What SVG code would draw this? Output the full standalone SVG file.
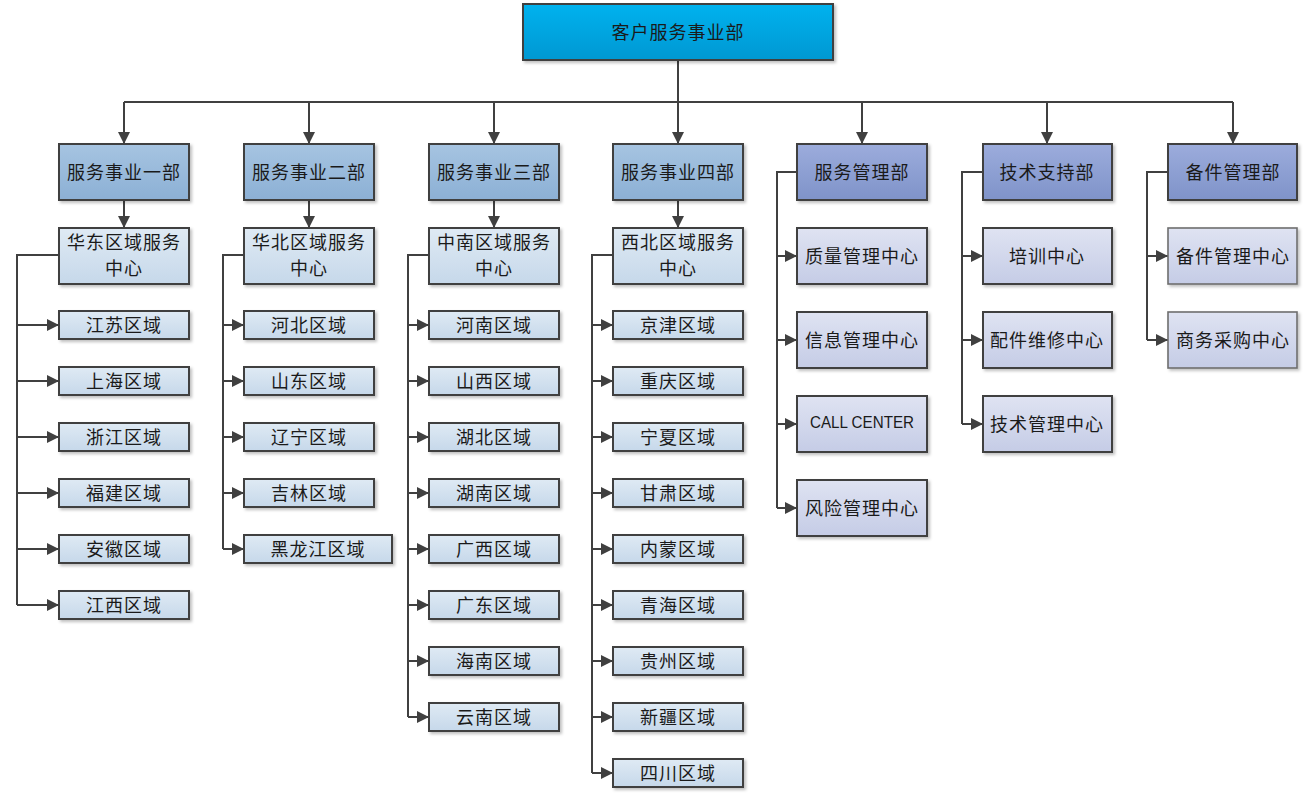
<svg xmlns="http://www.w3.org/2000/svg" width="1305" height="796" viewBox="0 0 1305 796">
<defs>
<linearGradient id="gTop" x1="0" y1="0" x2="0" y2="1"><stop offset="0" stop-color="#00B2EE"/><stop offset="1" stop-color="#0098D2"/></linearGradient>
<linearGradient id="gDept" x1="0" y1="0" x2="0" y2="1"><stop offset="0" stop-color="#A6C4E1"/><stop offset="1" stop-color="#8CB0D5"/></linearGradient>
<linearGradient id="gLight" x1="0" y1="0" x2="0" y2="1"><stop offset="0" stop-color="#DFEAF4"/><stop offset="1" stop-color="#C6D8EA"/></linearGradient>
<linearGradient id="gMgr" x1="0" y1="0" x2="0" y2="1"><stop offset="0" stop-color="#9CACDC"/><stop offset="1" stop-color="#7F93C9"/></linearGradient>
<linearGradient id="gMgrL" x1="0" y1="0" x2="0" y2="1"><stop offset="0" stop-color="#DFE3F2"/><stop offset="1" stop-color="#C5CCE6"/></linearGradient>
<filter id="sh" x="-10%" y="-10%" width="130%" height="140%"><feDropShadow dx="2" dy="2" stdDeviation="1.5" flood-color="#000" flood-opacity="0.25"/></filter>
<marker id="arr" markerUnits="userSpaceOnUse" markerWidth="12" markerHeight="12" refX="12" refY="6" orient="auto"><path d="M0,0 L12,6 L0,12 z" fill="#404040"/></marker>
<style>
rect{stroke:#404040;stroke-width:2;filter:url(#sh)}
.top{fill:url(#gTop)}
.dept{fill:url(#gDept)}
.lt{fill:url(#gLight)}
.mgr{fill:url(#gMgr)}
.mgl{fill:url(#gMgrL)}
.thin{stroke:#6e6e6e;stroke-width:1.6}
text{font-family:"Noto Sans CJK SC","Liberation Sans",sans-serif;font-size:18px;fill:#1a1a1a;text-anchor:middle;dominant-baseline:central;letter-spacing:1px;transform:translateY(-1.5px)}
.en{font-family:"Liberation Sans","Noto Sans",sans-serif;font-size:17px;letter-spacing:0}
#connectors path{fill:none;stroke:#404040;stroke-width:2}
.a{marker-end:url(#arr)}
</style>
</defs>
<rect width="1305" height="796" fill="#fff" style="stroke:none;filter:none"/>

<g id="connectors">
<path d="M678 60 V102 M124 102 H1233"/>
<path class="a" d="M124 102 V144"/><path class="a" d="M309 102 V144"/><path class="a" d="M494 102 V144"/><path class="a" d="M678 102 V144"/><path class="a" d="M862 102 V144"/><path class="a" d="M1047 102 V144"/><path class="a" d="M1233 102 V144"/>
<path class="a" d="M124 200 V228"/><path class="a" d="M309 200 V228"/><path class="a" d="M494 200 V228"/><path class="a" d="M678 200 V228"/>
<path d="M59 255 H17 V605"/>
<path class="a" d="M17 325 H59"/><path class="a" d="M17 381 H59"/><path class="a" d="M17 437 H59"/><path class="a" d="M17 493 H59"/><path class="a" d="M17 549 H59"/><path class="a" d="M17 605 H59"/>
<path d="M244 255 H223 V549"/>
<path class="a" d="M223 325 H244"/><path class="a" d="M223 381 H244"/><path class="a" d="M223 437 H244"/><path class="a" d="M223 493 H244"/><path class="a" d="M223 549 H244"/>
<path d="M429 255 H408 V717"/>
<path class="a" d="M408 325 H429"/><path class="a" d="M408 381 H429"/><path class="a" d="M408 437 H429"/><path class="a" d="M408 493 H429"/><path class="a" d="M408 549 H429"/><path class="a" d="M408 605 H429"/><path class="a" d="M408 661 H429"/><path class="a" d="M408 717 H429"/>
<path d="M613 255 H592 V773"/>
<path class="a" d="M592 325 H613"/><path class="a" d="M592 381 H613"/><path class="a" d="M592 437 H613"/><path class="a" d="M592 493 H613"/><path class="a" d="M592 549 H613"/><path class="a" d="M592 605 H613"/><path class="a" d="M592 661 H613"/><path class="a" d="M592 717 H613"/><path class="a" d="M592 773 H613"/>
<path d="M797 172 H777 V508"/>
<path class="a" d="M777 256 H797"/><path class="a" d="M777 340 H797"/><path class="a" d="M777 424 H797"/><path class="a" d="M777 508 H797"/>
<path d="M983 172 H962 V424"/>
<path class="a" d="M962 256 H983"/><path class="a" d="M962 340 H983"/><path class="a" d="M962 424 H983"/>
<path d="M1168 172 H1147 V340"/>
<path class="a" d="M1147 256 H1168"/><path class="a" d="M1147 340 H1168"/>
</g>

<g id="n-root"><rect class="top" x="523" y="4" width="310" height="56"/><text x="678" y="32">客户服务事业部</text></g>

<g id="n-d1"><rect class="dept" x="59" y="144" width="130" height="56"/><text x="124" y="172">服务事业一部</text></g>
<g id="n-d2"><rect class="dept" x="244" y="144" width="130" height="56"/><text x="309" y="172">服务事业二部</text></g>
<g id="n-d3"><rect class="dept" x="429" y="144" width="130" height="56"/><text x="494" y="172">服务事业三部</text></g>
<g id="n-d4"><rect class="dept" x="613" y="144" width="130" height="56"/><text x="678" y="172">服务事业四部</text></g>
<g id="n-d5"><rect class="mgr" x="797" y="144" width="130" height="56"/><text x="862" y="172">服务管理部</text></g>
<g id="n-d6"><rect class="mgr" x="983" y="144" width="129" height="56"/><text x="1047" y="172">技术支持部</text></g>
<g id="n-d7"><rect class="mgr" x="1168" y="144" width="129" height="56"/><text x="1233" y="172">备件管理部</text></g>

<g id="n-c1"><rect class="lt" x="59" y="228" width="130" height="56"/><text x="124" y="242">华东区域服务</text><text x="124" y="268">中心</text></g>
<g id="n-c2"><rect class="lt" x="244" y="228" width="130" height="56"/><text x="309" y="242">华北区域服务</text><text x="309" y="268">中心</text></g>
<g id="n-c3"><rect class="lt" x="429" y="228" width="130" height="56"/><text x="494" y="242">中南区域服务</text><text x="494" y="268">中心</text></g>
<g id="n-c4"><rect class="lt" x="613" y="228" width="130" height="56"/><text x="678" y="242">西北区域服务</text><text x="678" y="268">中心</text></g>

<g id="n-js"><rect class="lt" x="59" y="311" width="130" height="28"/><text x="124" y="325">江苏区域</text></g>
<g id="n-sh"><rect class="lt" x="59" y="367" width="130" height="28"/><text x="124" y="381">上海区域</text></g>
<g id="n-zj"><rect class="lt" x="59" y="423" width="130" height="28"/><text x="124" y="437">浙江区域</text></g>
<g id="n-fj"><rect class="lt" x="59" y="479" width="130" height="28"/><text x="124" y="493">福建区域</text></g>
<g id="n-ah"><rect class="lt" x="59" y="535" width="130" height="28"/><text x="124" y="549">安徽区域</text></g>
<g id="n-jx"><rect class="lt" x="59" y="591" width="130" height="28"/><text x="124" y="605">江西区域</text></g>

<g id="n-hb"><rect class="lt" x="244" y="311" width="130" height="28"/><text x="309" y="325">河北区域</text></g>
<g id="n-sd"><rect class="lt" x="244" y="367" width="130" height="28"/><text x="309" y="381">山东区域</text></g>
<g id="n-ln"><rect class="lt" x="244" y="423" width="130" height="28"/><text x="309" y="437">辽宁区域</text></g>
<g id="n-jl"><rect class="lt" x="244" y="479" width="130" height="28"/><text x="309" y="493">吉林区域</text></g>
<g id="n-hlj"><rect class="lt" x="244" y="535" width="148" height="28"/><text x="318" y="549">黑龙江区域</text></g>

<g id="n-hen"><rect class="lt" x="429" y="311" width="130" height="28"/><text x="494" y="325">河南区域</text></g>
<g id="n-sx"><rect class="lt" x="429" y="367" width="130" height="28"/><text x="494" y="381">山西区域</text></g>
<g id="n-hub"><rect class="lt" x="429" y="423" width="130" height="28"/><text x="494" y="437">湖北区域</text></g>
<g id="n-hun"><rect class="lt" x="429" y="479" width="130" height="28"/><text x="494" y="493">湖南区域</text></g>
<g id="n-gx"><rect class="lt" x="429" y="535" width="130" height="28"/><text x="494" y="549">广西区域</text></g>
<g id="n-gd"><rect class="lt" x="429" y="591" width="130" height="28"/><text x="494" y="605">广东区域</text></g>
<g id="n-hain"><rect class="lt" x="429" y="647" width="130" height="28"/><text x="494" y="661">海南区域</text></g>
<g id="n-yn"><rect class="lt" x="429" y="703" width="130" height="28"/><text x="494" y="717">云南区域</text></g>

<g id="n-jj"><rect class="lt" x="613" y="311" width="130" height="28"/><text x="678" y="325">京津区域</text></g>
<g id="n-cq"><rect class="lt" x="613" y="367" width="130" height="28"/><text x="678" y="381">重庆区域</text></g>
<g id="n-nx"><rect class="lt" x="613" y="423" width="130" height="28"/><text x="678" y="437">宁夏区域</text></g>
<g id="n-gs"><rect class="lt" x="613" y="479" width="130" height="28"/><text x="678" y="493">甘肃区域</text></g>
<g id="n-nm"><rect class="lt" x="613" y="535" width="130" height="28"/><text x="678" y="549">内蒙区域</text></g>
<g id="n-qh"><rect class="lt" x="613" y="591" width="130" height="28"/><text x="678" y="605">青海区域</text></g>
<g id="n-gz"><rect class="lt" x="613" y="647" width="130" height="28"/><text x="678" y="661">贵州区域</text></g>
<g id="n-xj"><rect class="lt" x="613" y="703" width="130" height="28"/><text x="678" y="717">新疆区域</text></g>
<g id="n-sc"><rect class="lt" x="613" y="759" width="130" height="28"/><text x="678" y="773">四川区域</text></g>

<g id="n-zl"><rect class="mgl" x="797" y="228" width="130" height="56"/><text x="862" y="256">质量管理中心</text></g>
<g id="n-xx"><rect class="mgl" x="797" y="312" width="130" height="56"/><text x="862" y="340">信息管理中心</text></g>
<g id="n-cc"><rect class="mgl" x="797" y="396" width="130" height="56"/><text class="en" x="862" y="424" textLength="104" lengthAdjust="spacingAndGlyphs">CALL CENTER</text></g>
<g id="n-fx"><rect class="mgl" x="797" y="480" width="130" height="56"/><text x="862" y="508">风险管理中心</text></g>

<g id="n-px"><rect class="mgl" x="983" y="228" width="129" height="56"/><text x="1047" y="256">培训中心</text></g>
<g id="n-pj"><rect class="mgl" x="983" y="312" width="129" height="56"/><text x="1047" y="340">配件维修中心</text></g>
<g id="n-js2"><rect class="mgl" x="983" y="396" width="129" height="56"/><text x="1047" y="424">技术管理中心</text></g>

<g id="n-bj"><rect class="mgl thin" x="1168" y="228" width="129" height="56"/><text x="1233" y="256">备件管理中心</text></g>
<g id="n-sw"><rect class="mgl thin" x="1168" y="312" width="129" height="56"/><text x="1233" y="340">商务采购中心</text></g>
</svg>
